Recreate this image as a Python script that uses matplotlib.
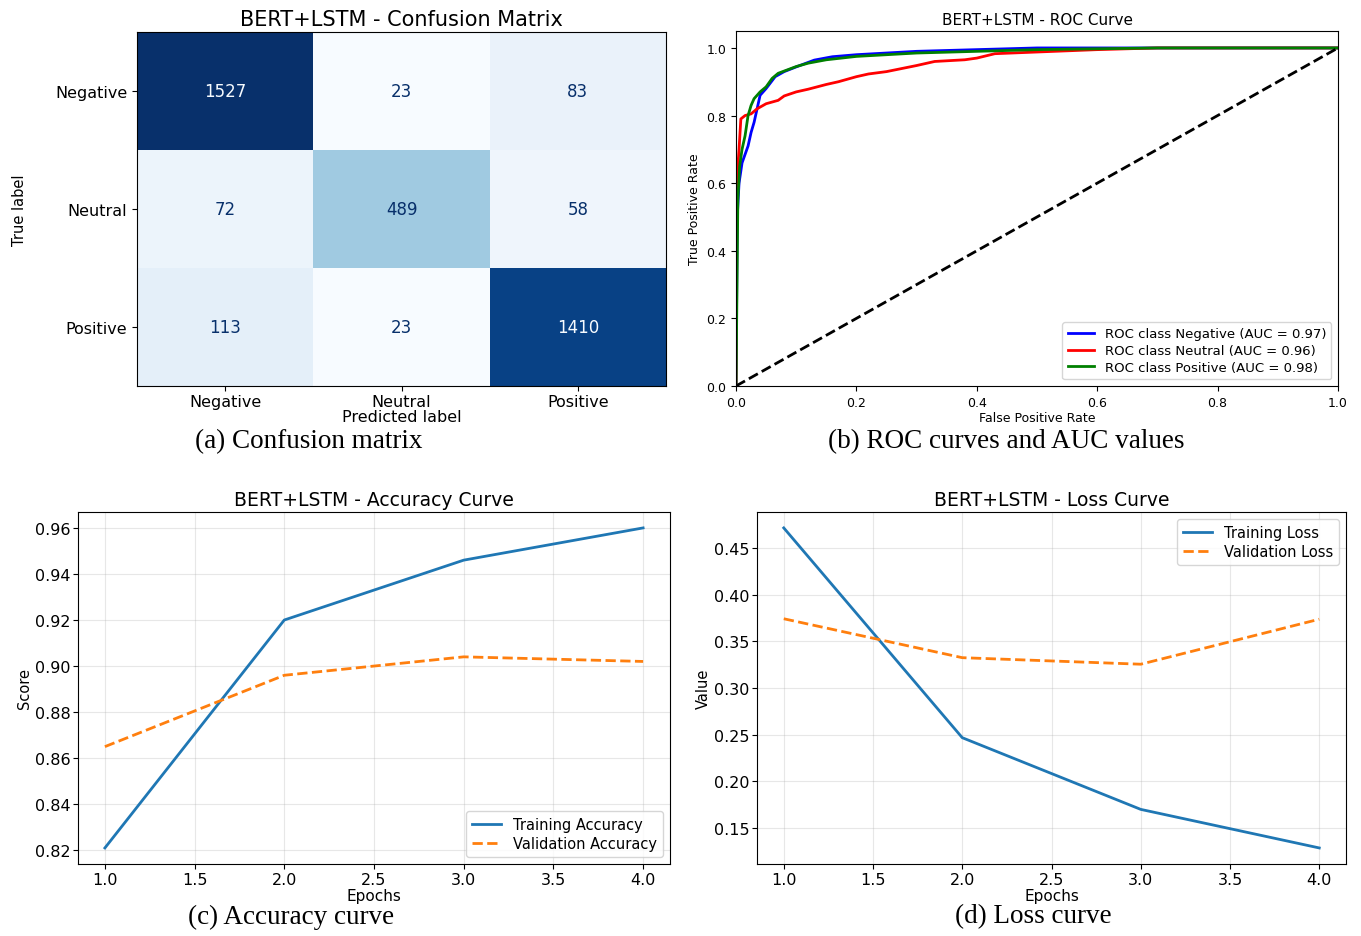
import numpy as np
import matplotlib
matplotlib.use("Agg")
import matplotlib.pyplot as plt
from matplotlib.colors import PowerNorm

# confusion matrix
class_names = ["Negative", "Neutral", "Positive"]
cm = np.array([[1527, 23, 83],
               [72, 489, 58],
               [113, 23, 1410]])

# ROC points
fpr_neg = [0.0, 0.002, 0.005, 0.01, 0.02, 0.025, 0.03, 0.035, 0.04, 0.05, 0.065,
           0.08, 0.1, 0.13, 0.16, 0.2, 0.3, 0.4, 0.5, 1.0]
tpr_neg = [0.0, 0.5, 0.6, 0.66, 0.71, 0.75, 0.78, 0.82, 0.86, 0.88, 0.915,
           0.93, 0.944, 0.964, 0.974, 0.98, 0.99, 0.995, 1.0, 1.0]
fpr_neu = [0.0, 0.001, 0.005, 0.008, 0.015, 0.025, 0.035, 0.05, 0.07, 0.08, 0.1,
           0.12, 0.15, 0.17, 0.2, 0.22, 0.25, 0.3, 0.33, 0.38, 0.4, 0.43, 0.5,
           0.6, 0.7, 1.0]
tpr_neu = [0.0, 0.6, 0.7, 0.79, 0.8, 0.805, 0.82, 0.835, 0.845, 0.858, 0.87,
           0.878, 0.892, 0.9, 0.915, 0.923, 0.93, 0.948, 0.96, 0.965, 0.97, 0.983, 0.988,
           0.995, 1.0, 1.0]
fpr_pos = [0.0, 0.003, 0.006, 0.01, 0.015, 0.02, 0.025, 0.03, 0.04, 0.05, 0.06,
           0.07, 0.085, 0.1, 0.12, 0.15, 0.2, 0.3, 0.4, 0.5, 0.7, 1.0]
tpr_pos = [0.0, 0.55, 0.65, 0.7, 0.74, 0.8, 0.83, 0.85, 0.87, 0.885, 0.91,
           0.925, 0.935, 0.945, 0.955, 0.965, 0.975, 0.985, 0.99, 0.995, 1.0, 1.0]
auc_vals = [0.97, 0.96, 0.98]

# training history
epochs = [1, 2, 3, 4]
train_acc = [0.821, 0.920, 0.946, 0.960]
val_acc = [0.865, 0.896, 0.904, 0.902]
train_loss = [0.4715, 0.2468, 0.1700, 0.1287]
val_loss = [0.3742, 0.3325, 0.3255, 0.3737]

fig = plt.figure(figsize=(13.61, 9.37), dpi=100)
cap_font = dict(family="Liberation Serif", fontsize=19.5)

# (a) confusion matrix
ax1 = fig.add_axes([0.1007, 0.5870, 0.3887, 0.3778])
ax1.imshow(cm, cmap="Blues", aspect="auto", interpolation="nearest",
           norm=PowerNorm(gamma=0.85, vmin=cm.min(), vmax=cm.max()))
cmap = plt.get_cmap("Blues")
thresh = (cm.max() + cm.min()) / 2.0
for i in range(3):
    for j in range(3):
        col = cmap(0.0) if cm[i, j] > thresh else cmap(1.0)
        ax1.text(j, i, str(cm[i, j]), ha="center", va="center", color=col, fontsize=12)
ax1.set_xticks(range(3))
ax1.set_xticklabels(class_names, fontsize=11.5)
ax1.set_yticks(range(3))
ax1.set_yticklabels(class_names, fontsize=11.5)
ax1.tick_params(axis="x", pad=2)
ax1.set_xlabel("Predicted label", fontsize=11.5, labelpad=0)
ax1.set_ylabel("True label", fontsize=10.5)
ax1.yaxis.set_label_coords(-0.208, 0.5)
ax1.set_title("BERT+LSTM - Confusion Matrix", fontsize=15, pad=5)
fig.text(309 / 1361, 1 - 442 / 937, "(a) Confusion matrix", ha="center", va="center", **cap_font)

# (b) ROC curves
ax2 = fig.add_axes([0.5408, 0.5870, 0.4423, 0.3788])
ax2.plot(fpr_neg, tpr_neg, color="blue", lw=2, label=f"ROC class Negative (AUC = {auc_vals[0]:.2f})")
ax2.plot(fpr_neu, tpr_neu, color="red", lw=2, label=f"ROC class Neutral (AUC = {auc_vals[1]:.2f})")
ax2.plot(fpr_pos, tpr_pos, color="green", lw=2, label=f"ROC class Positive (AUC = {auc_vals[2]:.2f})")
ax2.plot([0, 1], [0, 1], "k--", lw=2)
ax2.set_xlim(0, 1)
ax2.set_ylim(0, 1.05)
ax2.tick_params(labelsize=9)
ax2.set_xlabel("False Positive Rate", fontsize=9, labelpad=2)
ax2.set_ylabel("True Positive Rate", fontsize=9, labelpad=4)
ax2.set_title("BERT+LSTM - ROC Curve", fontsize=11, pad=5)
ax2.legend(loc="lower right", fontsize=9.5, labelspacing=0.3)
fig.text(1006 / 1361, 1 - 442 / 937, "(b) ROC curves and AUC values", ha="center", va="center", **cap_font)

# (c) accuracy
ax3 = fig.add_axes([0.0573, 0.0769, 0.4350, 0.3757])
ax3.plot(epochs, train_acc, lw=2, label="Training Accuracy")
ax3.plot(epochs, val_acc, lw=2, ls="--", label="Validation Accuracy")
ax3.grid(True, alpha=0.3)
ax3.tick_params(labelsize=11.5, pad=2)
ax3.set_xlabel("Epochs", fontsize=11, labelpad=1)
ax3.set_ylabel("Score", fontsize=10.5, labelpad=2)
ax3.set_title("BERT+LSTM - Accuracy Curve", fontsize=13.5, pad=5)
ax3.legend(loc="lower right", fontsize=10.5, labelspacing=0.25)
fig.text(291 / 1361, 1 - 917 / 937, "(c) Accuracy curve", ha="center", va="center", **cap_font)

# (d) loss
ax4 = fig.add_axes([0.5562, 0.0769, 0.4328, 0.3757])
ax4.plot(epochs, train_loss, lw=2, label="Training Loss")
ax4.plot(epochs, val_loss, lw=2, ls="--", label="Validation Loss")
ax4.grid(True, alpha=0.3)
ax4.tick_params(labelsize=11.5, pad=2)
ax4.set_xlabel("Epochs", fontsize=11, labelpad=1)
ax4.set_ylabel("Value", fontsize=10.5, labelpad=2)
ax4.set_title("BERT+LSTM - Loss Curve", fontsize=13.5, pad=5)
ax4.legend(loc="upper right", fontsize=10.5, labelspacing=0.25)
fig.text(1033 / 1361, 1 - 917 / 937, "(d) Loss curve", ha="center", va="center", **cap_font)

fig.savefig("out.png", dpi=100)
